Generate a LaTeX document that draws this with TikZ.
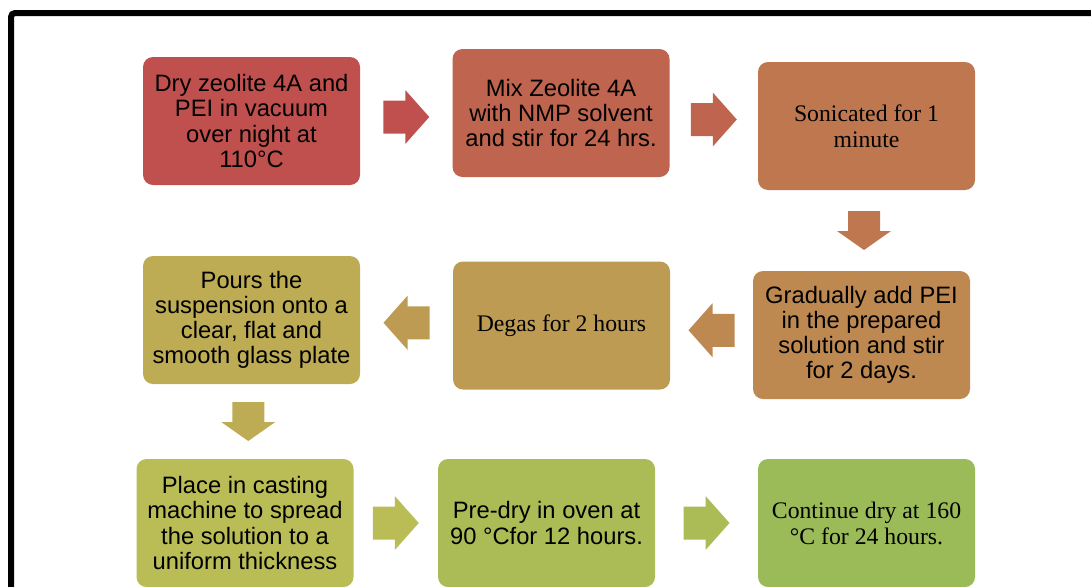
\documentclass[tikz,border=0pt]{standalone}
\usepackage{fontspec}
\setmainfont{Liberation Sans}
\newfontfamily\serifface{Liberation Serif}
\usetikzlibrary{calc}

% Step colours, running from red through tan to green
\definecolor{c0}{HTML}{C0504D}
\definecolor{c1}{HTML}{BF644E}
\definecolor{c2}{HTML}{BF7750}
\definecolor{c3}{HTML}{BE8951}
\definecolor{c4}{HTML}{BD9B53}
\definecolor{c5}{HTML}{BDAC54}
\definecolor{c6}{HTML}{BABD56}
\definecolor{c7}{HTML}{ABBC57}
\definecolor{c8}{HTML}{9BBB59}

\tikzset{
  stepbox/.style={rounded corners=7.5pt, minimum width=162.75pt,
    minimum height=96pt, inner sep=0pt, align=center, text=black,
    font=\fontsize{17.8}{18.8}\selectfont},
  seriftext/.style={font=\serifface\fontsize{17.8}{19.5}\selectfont},
  % block arrow pointing along local +x, horizontal and vertical sizes
  pics/harrow/.style={code={
    \fill[pic actions] (-23,-16.5) -- (-1,-16.5) -- (-1,-27) -- (23,0)
      -- (-1,27) -- (-1,16.5) -- (-23,16.5) -- cycle;}},
  pics/varrow/.style={code={
    \fill[pic actions] (-19.5,-16) -- (0.5,-16) -- (0.5,-27) -- (19.5,0)
      -- (0.5,27) -- (0.5,16) -- (-19.5,16) -- cycle;}},
}

\begin{document}
\begin{tikzpicture}[x=0.75pt,y=-0.75pt]
\useasboundingbox (0,0) rectangle (1091,586);

% outer frame, running off the right and bottom edges
\begin{scope}
  \clip (0,0) rectangle (1091,586);
  \draw[line width=4.5pt, rounded corners=3pt] (11,13) rectangle (1140,640);
\end{scope}

% process steps
\node[stepbox, fill=c0] (b1) at (251.5,121)
  {Dry zeolite 4A and\\PEI in vacuum\\over night at\\110°C};
\node[stepbox, fill=c1] (b2) at (561,113)
  {Mix Zeolite 4A\\with NMP solvent\\and stir for 24 hrs.};
\node[stepbox, seriftext, fill=c2] (b3) at (866.5,126)
  {Sonicated for 1\\minute};
\node[stepbox, fill=c3] (b6) at (861.5,335)
  {Gradually add PEI\\in the prepared\\solution and stir\\for 2 days.};
\node[stepbox, seriftext, fill=c4] (b5) at (561.5,325.5)
  {Degas for 2 hours};
\node[stepbox, fill=c5] (b4) at (251.5,320)
  {Pours the\\suspension onto a\\clear, flat and\\smooth glass plate};
\node[stepbox, fill=c6] (b7) at (245,523)
  {Place in casting\\machine to spread\\the solution to a\\uniform thickness};
\node[stepbox, fill=c7] (b8) at (546.5,523)
  {Pre-dry in oven at\\90 °Cfor 12 hours.};
\node[stepbox, seriftext, fill=c8] (b9) at (866.5,523)
  {Continue dry at 160\\°C for 24 hours.};

% block arrows between consecutive steps
\pic[fill=c0] at ($(b1.east)!0.5!(b2.west)$) {harrow};
\pic[fill=c1] at ($(b2.east)!0.5!(b3.west)$) {harrow};
\pic[fill=c2, rotate=-90] at ($(b3.south)!0.5!(b6.north)$) {varrow};
\pic[fill=c3, rotate=180] at ($(b6.west)!0.5!(b5.east)$) {harrow};
\pic[fill=c4, rotate=180] at ($(b5.west)!0.5!(b4.east)$) {harrow};
\pic[fill=c5, rotate=-90] at ($(b4.south)!0.5!(b7.north)$) {varrow};
\pic[fill=c6] at ($(b7.east)!0.5!(b8.west)$) {harrow};
\pic[fill=c7] at ($(b8.east)!0.5!(b9.west)$) {harrow};
\end{tikzpicture}
\end{document}
